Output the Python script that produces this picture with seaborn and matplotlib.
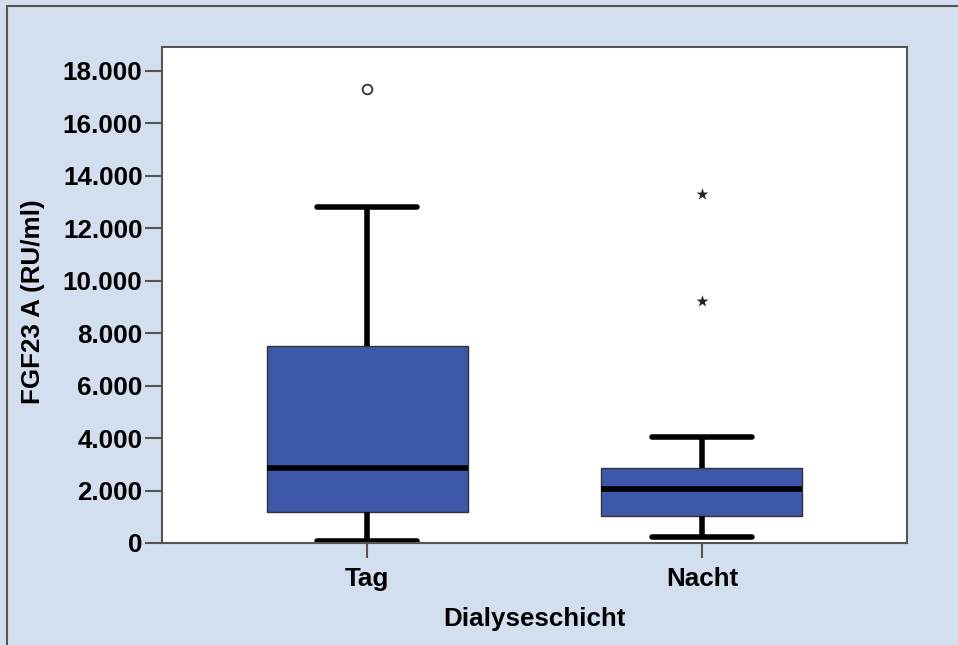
import numpy as np
import pandas as pd
import matplotlib.pyplot as plt
import seaborn as sns
from matplotlib.lines import Line2D
from matplotlib.ticker import FuncFormatter, MultipleLocator

# values
groups = ['Tag', 'Nacht']
lower_whisker = [80, 230]
q1 = [1180, 1030]
median = [2860, 2060]
q3 = [7500, 2860]
upper_whisker = [12800, 4040]

# SPSS: circle = outlier, star = extreme value
outlier_group = ['Tag']
outlier_value = [17300]
extreme_group = ['Nacht', 'Nacht']
extreme_value = [9230, 13300]

box_color = '#3d58ab'
bg_color = '#d3deef'
fs = 18.7

sns.set_style('white')
plt.rcParams['font.family'] = ['Liberation Sans', 'DejaVu Sans']
plt.rcParams['font.weight'] = 'bold'
plt.rcParams['text.color'] = 'black'
plt.rcParams['axes.labelcolor'] = 'black'
plt.rcParams['xtick.labelcolor'] = 'black'
plt.rcParams['ytick.labelcolor'] = 'black'

# five-number summaries -> small table for seaborn (n=5 gives the exact quartiles)
rows = []
for i, g in enumerate(groups):
    for v in [lower_whisker[i], q1[i], median[i], q3[i], upper_whisker[i]]:
        rows.append({'group': g, 'value': v})
df = pd.DataFrame(rows)
df_out = pd.DataFrame({'group': outlier_group, 'value': outlier_value})
df_ext = pd.DataFrame({'group': extreme_group, 'value': extreme_value})

fig = plt.figure(figsize=(9.58, 6.45), dpi=100, facecolor=bg_color)
ax = fig.add_axes([162 / 958, 1 - 543 / 645, 745 / 958, 496 / 645])
ax.set_facecolor('white')

sns.boxplot(data=df, x='group', y='value', order=groups, ax=ax,
            width=0.6, color=box_color, saturation=1, showfliers=False,
            linecolor='#333333', linewidth=1,
            whiskerprops={'color': 'black', 'linewidth': 4},
            capprops={'color': 'black', 'linewidth': 4},
            medianprops={'color': 'black', 'linewidth': 4})

sns.stripplot(data=df_out, x='group', y='value', order=groups, ax=ax,
              jitter=False, marker='o', size=7, color='white',
              edgecolor='#333333', linewidth=1.3, zorder=5)
sns.stripplot(data=df_ext, x='group', y='value', order=groups, ax=ax,
              jitter=False, marker='*', size=9, color='#222222',
              linewidth=0, zorder=5)

ax.set_xlim(-0.612, 1.612)
ax.set_ylim(0, 18900)
ax.yaxis.set_major_locator(MultipleLocator(2000))
ax.yaxis.set_major_formatter(FuncFormatter(lambda v, p: f'{int(v):,}'.replace(',', '.')))

for s in ax.spines.values():
    s.set_visible(True)
    s.set_color('#555555')
    s.set_linewidth(1.5)

ax.tick_params(axis='y', left=True, length=12, width=1.5, color='#555555',
               pad=2, labelsize=fs, labelcolor='black')
ax.tick_params(axis='x', bottom=True, length=11, width=1.5, color='#555555',
               pad=6, labelsize=fs, labelcolor='black')
for lab in ax.get_xticklabels() + ax.get_yticklabels():
    lab.set_fontweight('bold')

ax.set_xlabel('Dialyseschicht', fontsize=fs, fontweight='bold', labelpad=12, color='black')
ax.set_ylabel('FGF23 A (RU/ml)', fontsize=fs, fontweight='bold', color='black')
ax.yaxis.set_label_coords(-0.157, 0.487)

# outer frame of the chart (only top and left edges are visible)
fig.add_artist(Line2D([7 / 958, 1], [1 - 6 / 645, 1 - 6 / 645],
                      transform=fig.transFigure, color='#555555', linewidth=1.5))
fig.add_artist(Line2D([7 / 958, 7 / 958], [0, 1 - 6 / 645],
                      transform=fig.transFigure, color='#555555', linewidth=1.5))

fig.savefig('out.png', dpi=100, facecolor=bg_color)
